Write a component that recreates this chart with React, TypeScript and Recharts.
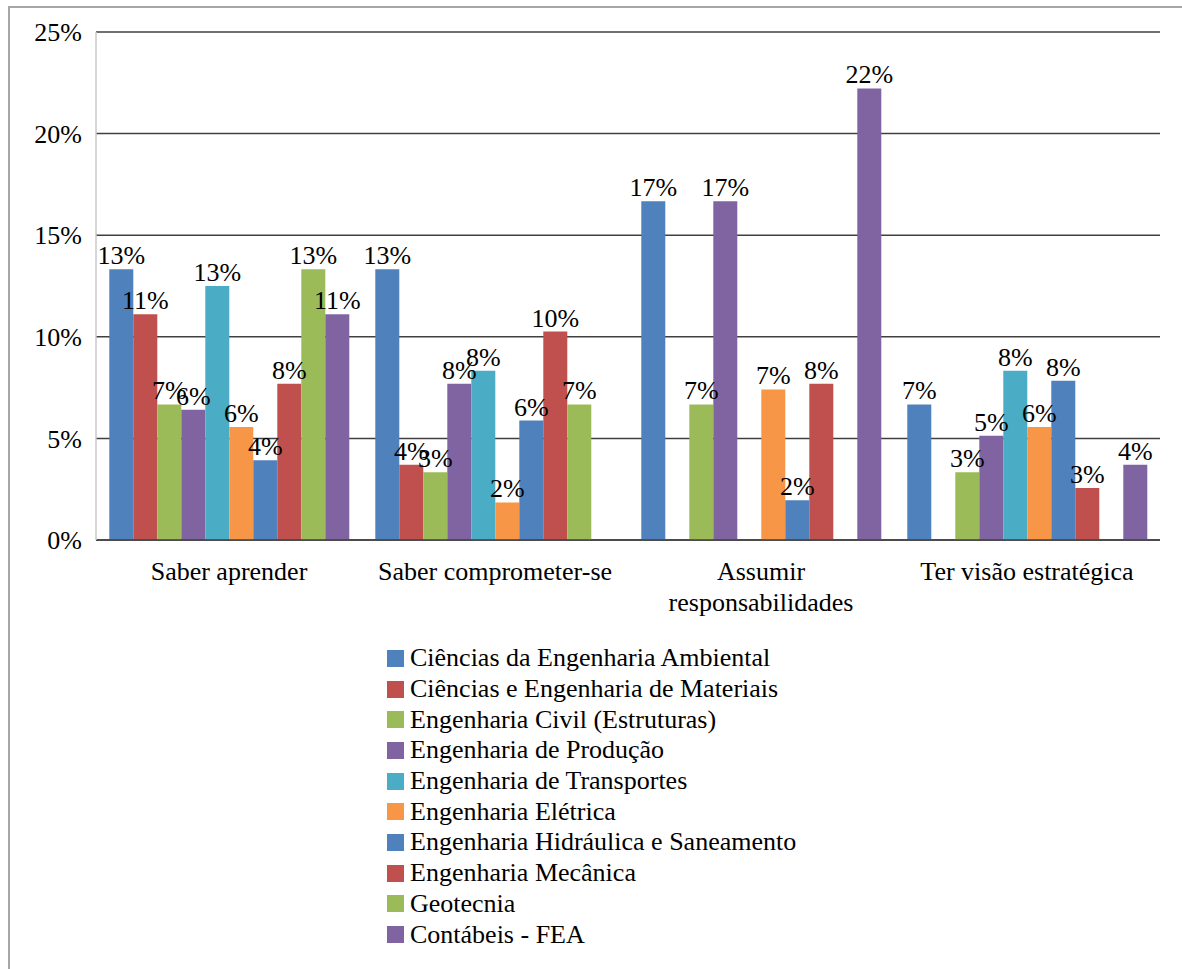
import {
  BarChart,
  Bar,
  XAxis,
  YAxis,
  CartesianGrid,
  LabelList,
  Legend
} from 'recharts';

const categories = [
  'Saber aprender',
  'Saber comprometer-se',
  'Assumir responsabilidades',
  'Ter visão estratégica'
];

const seriesNames = [
  'Ciências da Engenharia Ambiental',
  'Ciências e Engenharia de Materiais',
  'Engenharia Civil (Estruturas)',
  'Engenharia de Produção',
  'Engenharia de Transportes',
  'Engenharia Elétrica',
  'Engenharia Hidráulica e Saneamento',
  'Engenharia Mecânica',
  'Geotecnia',
  'Contábeis - FEA'
];

// percent values per series, one entry per category (null = no bar)
const ambiental = [13.33, 13.33, 16.67, 6.67];
const materiais = [11.11, 3.7, null, null];
const civil = [6.67, 3.33, 6.67, 3.33];
const producao = [6.41, 7.69, 16.67, 5.13];
const transportes = [12.5, 8.33, null, 8.33];
const eletrica = [5.56, 1.85, 7.41, 5.56];
const hidraulica = [3.92, 5.88, 1.96, 7.84];
const mecanica = [7.69, 10.26, 7.69, 2.56];
const geotecnia = [13.33, 6.67, null, null];
const contabeis = [11.11, null, 22.22, 3.7];

const seriesValues = [
  ambiental, materiais, civil, producao, transportes,
  eletrica, hidraulica, mecanica, geotecnia, contabeis
];

const colors = [
  '#4F81BD', '#C0504D', '#9BBB59', '#8064A2', '#4BACC6',
  '#F79646', '#4F81BD', '#C0504D', '#9BBB59', '#8064A2'
];

const yTicks = [0, 5, 10, 15, 20, 25];

const FONT = "Liberation Serif, Times New Roman, Times, DejaVu Serif, Noto Serif, serif";

const data = categories.map((name, i) => {
  const row: Record<string, string | number | null> = { name };
  seriesNames.forEach((s, j) => {
    row['s' + j] = seriesValues[j][i];
  });
  return row;
});

function CategoryTick({ x, y, payload }: any) {
  const text: string = payload.value;
  const words = text.split(' ');
  // long labels go on two lines, like the original
  const lines = text.length > 22 ? [words[0], words.slice(1).join(' ')] : [text];
  return (
    <text x={x} y={y} textAnchor="middle" fill="#000" fontSize={26} fontFamily={FONT}>
      {lines.map((l, i) => (
        <tspan key={i} x={x} dy={i === 0 ? 19 : 31}>{l}</tspan>
      ))}
    </text>
  );
}

function LegendBox() {
  return (
    <div style={{ fontFamily: FONT, fontSize: 26, color: '#000' }}>
      {seriesNames.map((s, i) => (
        <div key={s} style={{ display: 'flex', alignItems: 'center', height: 30.7, whiteSpace: 'nowrap' }}>
          <span style={{ width: 17, height: 17, background: colors[i], marginRight: 6, flex: 'none' }} />
          <span>{s}</span>
        </div>
      ))}
    </div>
  );
}

export default function App() {
  return (
    <div style={{ position: 'absolute', left: 0, top: 0, width: 1182, height: 969, overflow: 'hidden', background: '#fff' }}>
      <div
        style={{
          position: 'absolute',
          left: 8,
          top: 6,
          width: 1174,
          height: 963,
          borderLeft: '2px solid #a6a6a6',
          borderTop: '2px solid #a6a6a6',
          boxSizing: 'border-box'
        }}
      />
      <div style={{ position: 'absolute', left: 0, top: 0 }}>
        <BarChart
          width={1182}
          height={969}
          data={data}
          margin={{ top: 32, right: 22, bottom: 349, left: 0 }}
          barCategoryGap="5%"
          barGap={0}
        >
          <CartesianGrid vertical={false} stroke="#404040" strokeWidth={1.5} />
          <XAxis
            dataKey="name"
            tick={<CategoryTick />}
            tickLine={false}
            tickSize={0}
            tickMargin={21}
            height={80}
            interval={0}
            axisLine={{ stroke: '#404040', strokeWidth: 1.5 }}
          />
          <YAxis
            width={96}
            domain={[0, 25]}
            ticks={yTicks}
            tickFormatter={(v: number) => `${v}%`}
            tickLine={false}
            tickSize={0}
            tickMargin={14}
            axisLine={{ stroke: '#c8c8c8', strokeWidth: 1.5 }}
            tick={{ fill: '#000', fontSize: 26, fontFamily: FONT }}
          />
          <YAxis
            yAxisId="right"
            orientation="right"
            width={0}
            domain={[0, 25]}
            tick={false}
            tickLine={false}
            axisLine={{ stroke: '#c8c8c8', strokeWidth: 1.5 }}
          />
          <Legend
            layout="vertical"
            align="center"
            verticalAlign="middle"
            content={<LegendBox />}
            wrapperStyle={{ left: 387, top: 643, width: 500 }}
          />
          {seriesNames.map((s, i) => (
            <Bar key={s} dataKey={'s' + i} name={s} fill={colors[i]} isAnimationActive={false}>
              <LabelList
                dataKey={'s' + i}
                position="top"
                offset={5}
                formatter={(v: any) => (v == null ? '' : `${Math.round(Number(v))}%`)}
                fill="#000"
                fontSize={26}
                fontFamily={FONT}
              />
            </Bar>
          ))}
        </BarChart>
      </div>
    </div>
  );
}
